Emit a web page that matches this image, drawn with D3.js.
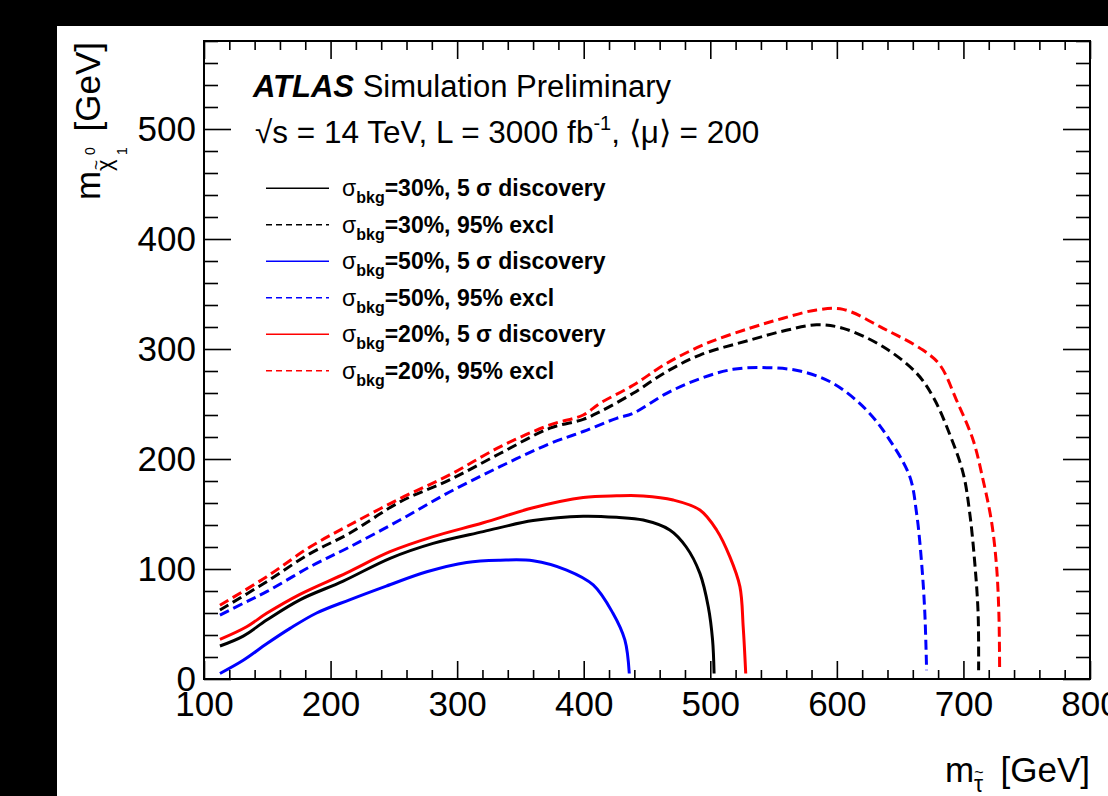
<!DOCTYPE html>
<html>
<head>
<meta charset="utf-8">
<script src="https://cdn.jsdelivr.net/npm/d3@7"></script>
<style>
  body { margin: 0; background: #000; }
  svg { display: block; }
  text { font-family: "Liberation Sans", Arial, Helvetica, sans-serif; fill: #000; white-space: pre; }
</style>
</head>
<body>
<script>
var W = 1108, H = 796;

// [m_stau, m_chi]
var disc30 = [[112.6,30],[131,39],[149.5,53.6],[175.8,72],[210,89],[247,109.7],[281,123.3],[320.6,134],[360,144],[399.6,148],[426,147],[447,144.5],[468,135.5],[481,120],[491.8,96],[498.4,65.7],[501.8,35.5],[503,5]];
var excl30 = [[112.6,62.7],[149.5,88.5],[183.7,114],[215,132.5],[254.8,161],[294,181],[333.8,205],[373.3,228],[399.6,236],[412.8,243],[439,259.7],[465.5,279.4],[491.8,294.5],[531,308],[560,317],[584,322],[605,318.8],[636.6,302],[663,278],[676,256.6],[689,223],[699.8,187],[705,150.6],[709,105],[711.6,60],[712,8]];
var disc50 = [[112.6,5],[131,17],[149.5,32],[168,46],[189,60],[215,72],[244,84.5],[276,97.5],[307.5,106],[334,108],[360,107.5],[386.5,99],[407.5,85.5],[423,60],[432.5,35.5],[436,5]];
var excl50 = [[112.6,58],[131,68.8],[149.5,79.4],[183.7,102],[215,120],[254.8,144.5],[294,170],[333.8,193],[373.3,214],[399.6,225],[426,237],[439,241.5],[465.5,259.7],[491.8,273],[518,281.5],[544.5,283],[570.8,280],[597,268.8],[623.4,244.5],[641.9,217],[657.6,184],[663,150.6],[667,105],[669.5,60],[670.9,8]];
var disc20 = [[112.6,36],[133.7,47.5],[149.5,59.7],[175.8,77],[212.7,96.5],[247,115.7],[281,129.4],[320.6,142],[360,155.7],[399.6,165],[426,166.5],[447,166.4],[470.7,162.7],[491.8,153.6],[505,135.5],[515.5,111],[523.4,84],[526,47.5],[528,5]];
var excl20 = [[112.6,67],[149.5,93],[183.7,120],[215,140],[254.8,164],[294,185.5],[333.8,211],[373.3,231],[399.6,240],[412.8,250.6],[439,267],[465.5,287],[497,305],[531,318.8],[557.6,328],[584,335.5],[605,336],[636.6,318.8],[668,299],[681.4,285.5],[694.5,253.6],[707.7,217],[715.5,181],[722,144.5],[726,105],[728,60],[728.6,8]];

var seriesNames = ['30%, 5 σ discovery', '30%, 95% excl', '50%, 5 σ discovery', '50%, 95% excl', '20%, 5 σ discovery', '20%, 95% excl'];
var seriesData = [disc30, excl30, disc50, excl50, disc20, excl20];
var seriesColors = ['#000000', '#000000', '#0000ff', '#0000ff', '#ff0000', '#ff0000'];
var seriesDashed = [false, true, false, true, false, true];

var xMajor = [100, 200, 300, 400, 500, 600, 700, 800];
var yMajor = [0, 100, 200, 300, 400, 500];

var svg = d3.select('body').append('svg')
    .attr('width', W)
    .attr('height', H);

svg.append('rect').attr('x', 57).attr('y', 26).attr('width', W - 57).attr('height', H - 26).attr('fill', '#fff');

var x = d3.scaleLinear().domain([100, 800]).range([204, 1090]);
var y = d3.scaleLinear().domain([0, 580]).range([679, 41]);

var xMinor = d3.range(100, 801, 20).filter(function(v) { return v % 100 !== 0; });
var yMinor = d3.range(0, 581, 20).filter(function(v) { return v % 100 !== 0; });

function styleAxis(g) {
    g.select('.domain').remove();
    g.selectAll('line').attr('stroke', '#000').attr('stroke-width', 1.6);
    g.selectAll('text').style('font-size', '35px');
}

// bottom + top
svg.append('g').attr('transform', 'translate(0,679)')
    .call(d3.axisBottom(x).tickValues(xMajor).tickSize(-18).tickPadding(12).tickFormat(d3.format('d')))
    .call(styleAxis);
svg.append('g').attr('transform', 'translate(0,679)')
    .call(d3.axisBottom(x).tickValues(xMinor).tickSize(-9).tickFormat(''))
    .call(styleAxis);
svg.append('g').attr('transform', 'translate(0,41)')
    .call(d3.axisTop(x).tickValues(xMajor).tickSize(-18).tickFormat(''))
    .call(styleAxis);
svg.append('g').attr('transform', 'translate(0,41)')
    .call(d3.axisTop(x).tickValues(xMinor).tickSize(-9).tickFormat(''))
    .call(styleAxis);

// left + right
svg.append('g').attr('transform', 'translate(204,0)')
    .call(d3.axisLeft(y).tickValues(yMajor).tickSize(-27).tickPadding(8))
    .call(styleAxis);
svg.append('g').attr('transform', 'translate(204,0)')
    .call(d3.axisLeft(y).tickValues(yMinor).tickSize(-14).tickFormat(''))
    .call(styleAxis);
svg.append('g').attr('transform', 'translate(1090,0)')
    .call(d3.axisRight(y).tickValues(yMajor).tickSize(-27).tickFormat(''))
    .call(styleAxis);
svg.append('g').attr('transform', 'translate(1090,0)')
    .call(d3.axisRight(y).tickValues(yMinor).tickSize(-14).tickFormat(''))
    .call(styleAxis);

svg.append('rect')
    .attr('x', 204).attr('y', 41).attr('width', 1090 - 204).attr('height', 679 - 41)
    .attr('fill', 'none').attr('stroke', '#000').attr('stroke-width', 2);

// curves
var line = d3.line()
    .curve(d3.curveCatmullRom.alpha(0.5))
    .x(function(d) { return x(d[0]); })
    .y(function(d) { return y(d[1]); });

svg.append('g').selectAll('path')
    .data(seriesData)
    .enter().append('path')
    .attr('d', line)
    .attr('fill', 'none')
    .attr('stroke', function(d, i) { return seriesColors[i]; })
    .attr('stroke-width', 3)
    .attr('stroke-linejoin', 'round')
    .attr('stroke-dasharray', function(d, i) { return seriesDashed[i] ? '10,5' : null; });

// labels
var t1 = svg.append('text').attr('x', 253).attr('y', 97).style('font-size', '31px');
t1.append('tspan').text('ATLAS').style('font-weight', 'bold').style('font-style', 'italic');
t1.append('tspan').text(' Simulation Preliminary');

var t2 = svg.append('text').attr('x', 255).attr('y', 143).style('font-size', '31.5px');
t2.append('tspan').text('√s = 14 TeV, L = 3000 fb');
t2.append('tspan').text('-1').style('font-size', '20px').attr('dy', -13);
t2.append('tspan').text(', ⟨μ⟩ = 200').attr('dy', 13);

// legend
var leg = svg.append('g').selectAll('g')
    .data(seriesNames)
    .enter().append('g')
    .attr('transform', function(d, i) { return 'translate(0,' + (188.3 + i * 36.5) + ')'; });

leg.append('line')
    .attr('x1', 266).attr('x2', 329)
    .attr('stroke', function(d, i) { return seriesColors[i]; })
    .attr('stroke-width', 1.5)
    .attr('stroke-dasharray', function(d, i) { return seriesDashed[i] ? '6,4' : null; });

var lt = leg.append('text').attr('x', 342).attr('y', 8).style('font-size', '23px').style('font-weight', 'bold');
lt.append('tspan').text('σ').style('font-weight', 'normal');
lt.append('tspan').text('bkg').style('font-size', '16px').attr('dy', 7);
lt.append('tspan').text(function(d) { return '=' + d; }).attr('dy', -7);

// y axis title (rotated, reads bottom to top)
var yg = svg.append('g').attr('transform', 'translate(100,200) rotate(-90)');
yg.append('text').attr('x', 0).attr('y', 0).style('font-size', '35px').text('m');
yg.append('text').attr('x', 29).attr('y', 12).style('font-size', '22px').text('χ');
yg.append('text').attr('x', 35).attr('y', 2).attr('text-anchor', 'middle').style('font-size', '17px').text('~');
yg.append('text').attr('x', 45).attr('y', -5).style('font-size', '14px').text('0');
yg.append('text').attr('x', 45).attr('y', 27).style('font-size', '14px').text('1');
yg.append('text').attr('x', 158).attr('y', 0).attr('text-anchor', 'end').style('font-size', '35px').text('[GeV]');

// x axis title
var xg = svg.append('g');
xg.append('text').attr('x', 945).attr('y', 782).style('font-size', '35px').text('m');
xg.append('text').attr('x', 974).attr('y', 792).style('font-size', '23px').text('τ');
xg.append('text').attr('x', 979).attr('y', 778).attr('text-anchor', 'middle').style('font-size', '16px').text('~');
xg.append('text').attr('x', 1090).attr('y', 782).attr('text-anchor', 'end').style('font-size', '35px').text('[GeV]');
</script>
</body>
</html>
